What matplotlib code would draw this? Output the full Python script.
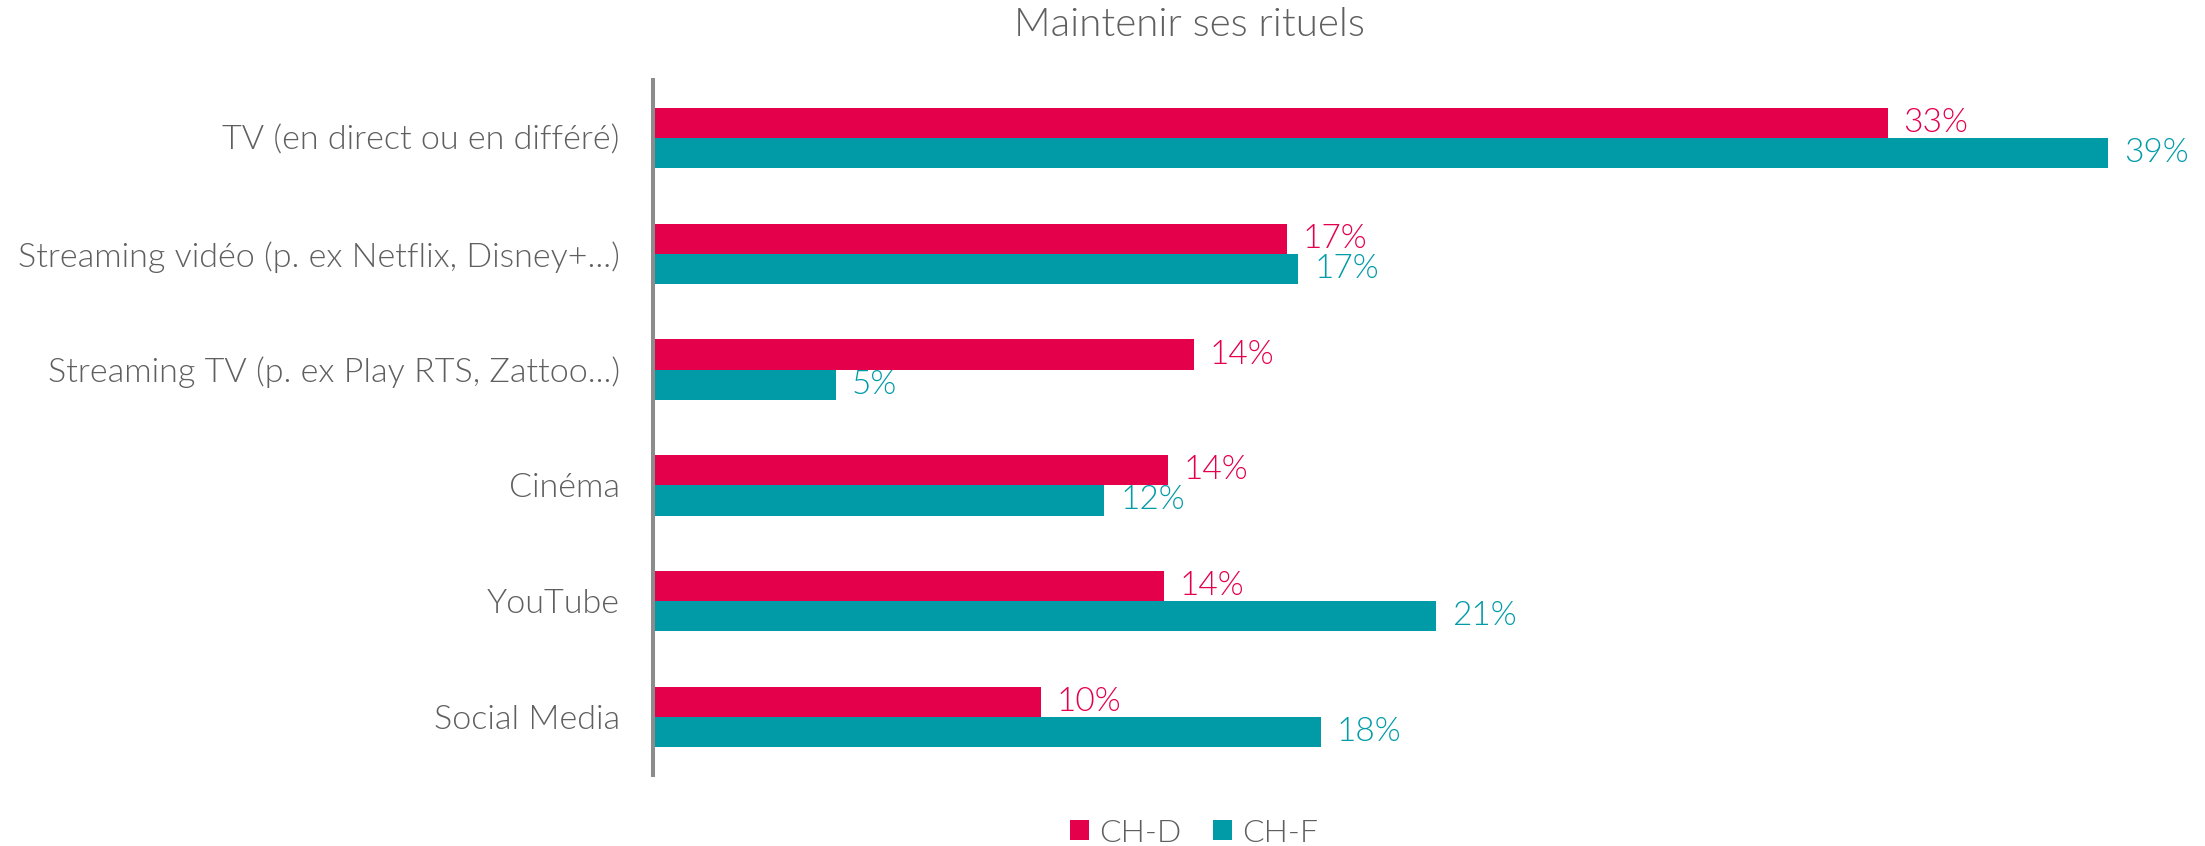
import matplotlib.pyplot as plt
import numpy as np

categories = ["TV (en direct ou en différé)",
              "Streaming vidéo (p. ex Netflix, Disney+...)",
              "Streaming TV (p. ex Play RTS, Zattoo...)",
              "Cinéma",
              "YouTube",
              "Social Media"]
ch_d = [33.1, 17.0, 14.5, 13.8, 13.7, 10.4]
ch_f = [39.0, 17.3, 4.9, 12.1, 21.0, 17.9]
series_names = ["CH-D", "CH-F"]

RED = "#E4004B"
TEAL = "#019BA8"
GREY = "#5F5F5F"
FONT = ["Lato", "DejaVu Sans"]

plt.rcParams['font.family'] = FONT
plt.rcParams['font.weight'] = 300

fig = plt.figure(figsize=(22.05, 8.46), dpi=100)
ax = fig.add_axes([653 / 2205, 1 - 775 / 846, 1 - 653 / 2205, (775 - 80) / 846])

y = np.arange(len(categories))
h = 0.26
b1 = ax.barh(y - h / 2, ch_d, height=h, color=RED, label=series_names[0])
b2 = ax.barh(y + h / 2, ch_f, height=h, color=TEAL, label=series_names[1])

for bars, vals, col in [(b1, ch_d, RED), (b2, ch_f, TEAL)]:
    for bar, v in zip(bars, vals):
        ax.text(v + 0.42, bar.get_y() + bar.get_height() / 2, f"{round(v)}%",
                va='center', ha='left', fontsize=24, color=col)

ax.set_xlim(0, 41.6)
ax.set_ylim(5.5, -0.5)
ax.set_yticks(y)
ax.set_yticklabels(categories, fontsize=24.6, color=GREY)
ax.tick_params(axis='y', length=0, pad=24)
ax.set_xticks([])
for s in ['top', 'right', 'bottom']:
    ax.spines[s].set_visible(False)
ax.spines['left'].set_color('#8C8C8C')
ax.spines['left'].set_linewidth(2.9)

fig.text(1189 / 2205, 1 - 25 / 846, "Maintenir ses rituels", ha='center', va='center',
         fontsize=29, color=GREY)

fig.legend(loc='center', bbox_to_anchor=(1194 / 2205, 1 - 833 / 846), ncol=2, frameon=False,
           fontsize=23, labelcolor=GREY, handlelength=0.6, handleheight=0.6,
           handletextpad=0.3, columnspacing=1.0)

fig.savefig("out.png", dpi=100)
